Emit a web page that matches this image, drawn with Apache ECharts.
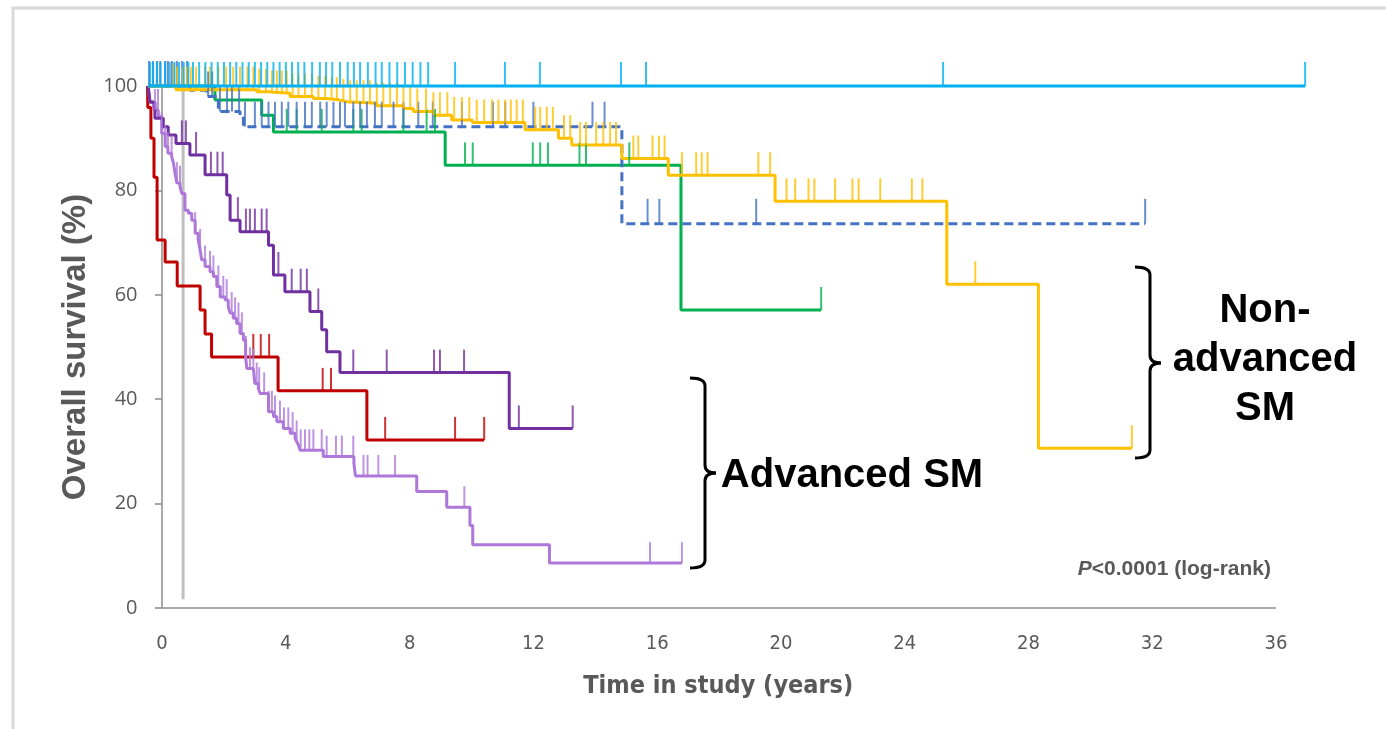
<!DOCTYPE html>
<html>
<head>
<meta charset="utf-8">
<script src="https://cdn.jsdelivr.net/npm/echarts@6/dist/echarts.min.js"></script>
<style>html,body{margin:0;padding:0;background:#fff}#c{width:1386px;height:729px}</style>
</head>
<body>
<div id="c"></div>
<script>
// ---- Data: Kaplan-Meier step curves [time (years), survival (%)] ----
const xTicks = [0, 4, 8, 12, 16, 20, 24, 28, 32, 36];
const yTicks = [0, 20, 40, 60, 80, 100];
const xRange = [-0.47, 37];          // data extent (curves start slightly before 0)
const xAxisSpan = [0, 36];           // drawn x-axis line

const lightBlueCurve = [[-0.45, 100], [36.94, 100]];
const lightBlueCensor = [-0.39,-0.3,-0.17,-0.05,0.1,0.25,0.4,0.55,0.7,0.85,1.0,1.2,1.4,1.6,1.8,2.0,2.2,2.4,2.6,2.8,3.0,3.2,3.4,3.6,3.8,4.0,4.2,4.4,4.6,4.85,5.1,5.3,5.5,5.75,6.0,6.2,6.4,6.65,6.9,7.1,7.35,7.6,7.85,8.1,8.35,8.6,9.47,11.08,12.21,14.83,15.64,25.24,36.94];

const yellowCurve = [[-0.45,100],[0.45,99.3],[3.06,98.9],[3.44,98.6],[4.14,98.0],[4.89,97.6],[5.32,97.3],[5.75,97.0],[5.97,96.7],[6.94,96.2],[7.8,95.7],[8.12,95.1],[8.77,94.4],[9.36,93.5],[10.03,93.0],[11.73,91.6],[12.81,90.0],[13.24,88.7],[14.86,86.1],[16.36,82.9],[19.81,77.9],[25.36,62.0],[28.32,30.6],[31.34,30.6]];
const yellowCensor = [0.37,0.49,0.67,0.8,0.93,1.1,1.39,1.55,1.82,2.07,2.3,2.52,2.76,2.95,3.14,3.36,3.55,3.71,3.87,4.03,4.22,4.41,4.62,4.84,5.05,5.27,5.48,5.65,5.86,6.08,6.29,6.51,6.72,6.94,7.15,7.37,7.59,7.8,8.02,8.25,8.53,8.77,8.98,9.22,9.44,9.69,9.93,10.17,10.41,10.66,10.87,11.09,11.27,11.46,11.66,12.06,12.22,12.43,12.63,12.99,13.19,13.51,13.7,14.03,14.26,14.48,14.67,15.23,15.39,15.85,16.06,16.24,16.8,17.26,17.44,17.63,19.27,19.65,20.18,20.46,20.89,21.08,21.75,22.31,22.51,23.21,24.23,24.57,26.28,31.34];

const blueCurve = [[-0.45,100],[0.9,99.2],[1.44,98.0],[1.82,95.1],[2.52,94.4],[2.63,92.2],[14.86,73.6],[31.77,73.6]];
const blueCensor = [-0.42,-0.29,-0.16,-0.06,0.1,0.19,0.32,0.48,0.65,0.81,1.49,1.62,1.87,2.1,2.26,2.49,2.68,3.0,3.22,3.44,3.65,3.87,4.08,4.35,4.62,4.84,5.11,5.32,5.54,5.75,5.91,6.18,6.4,6.62,6.88,7.1,7.48,7.8,8.28,8.75,9.69,10.69,11.09,12.0,13.91,14.3,15.69,16.07,19.2,31.77];

const greenCurve = [[-0.45,100],[1.71,97.3],[3.22,94.4],[3.6,91.2],[9.15,84.8],[16.77,57.1],[21.3,57.1]];
const greenCensor = [4.03,4.35,5.16,6.18,6.45,7.8,8.55,8.82,9.79,10.04,11.98,12.22,12.47,13.49,13.7,15.1,21.3];

const redCurve = [[-0.47,100],[-0.46,95.9],[-0.36,90.0],[-0.26,82.5],[-0.16,70.5],[0.1,66.3],[0.49,61.7],[1.23,57.1],[1.39,52.5],[1.6,48.1],[3.75,41.6],[6.62,32.2],[10.41,32.2]];
const redCensor = [2.95,3.19,3.46,5.19,5.46,7.21,9.47,10.41];

const purpleCurve = [[-0.45,100],[-0.39,96.9],[-0.23,93.8],[0.04,92.2],[0.2,90.6],[0.45,89.0],[0.9,86.8],[1.39,83.0],[2.09,79.1],[2.2,74.3],[2.52,72.1],[3.44,69.5],[3.6,63.8],[3.97,60.6],[4.78,56.8],[5.16,53.3],[5.32,49.1],[5.75,45.1],[11.22,34.4],[13.27,34.4]];
const purpleCensor = [0.64,0.77,1.1,1.58,1.79,1.96,2.45,2.71,2.84,3.0,3.22,3.38,3.76,4.19,4.48,4.68,5.05,6.18,7.26,8.79,8.98,9.76,11.53,13.27];

const lilacCurve = [[-0.45,100],[-0.39,97.0],[-0.28,96.0],[-0.23,95.4],[-0.12,94.1],[-0.01,90.9],[0.1,88.4],[0.19,87.1],[0.31,86.5],[0.37,85.2],[0.42,83.3],[0.48,81.4],[0.58,80.7],[0.64,79.4],[0.74,76.2],[0.85,75.6],[0.96,74.3],[1.07,71.8],[1.17,70.5],[1.23,68.6],[1.28,66.7],[1.39,65.4],[1.55,64.4],[1.66,63.5],[1.77,61.6],[1.88,59.6],[2.04,59.0],[2.14,57.7],[2.2,56.5],[2.3,55.5],[2.41,54.5],[2.52,52.6],[2.63,51.3],[2.7,48.1],[2.74,45.9],[2.95,45.6],[3.0,43.0],[3.11,42.1],[3.17,41.1],[3.44,37.6],[3.6,36.7],[3.71,35.7],[3.92,34.4],[4.14,33.5],[4.3,32.5],[4.35,31.9],[4.41,31.2],[4.46,30.2],[5.21,29.0],[6.2,27.7],[6.25,25.3],[8.23,22.3],[9.2,19.3],[9.95,15.8],[10.04,12.1],[12.52,8.6],[16.8,8.6]];
const lilacCensor = [-0.23,-0.13,-0.01,0.1,0.19,0.31,0.48,0.58,1.07,1.23,1.39,1.55,1.66,1.82,1.98,2.09,2.25,2.36,2.47,2.58,2.71,2.84,2.95,3.06,3.14,3.3,3.44,3.55,3.65,3.81,3.94,4.08,4.22,4.35,4.48,4.62,4.76,4.89,5.16,5.32,5.62,5.81,6.18,6.51,6.64,6.99,7.53,9.77,15.77,16.8];

const grayLine = [[0.68, 1.7], [0.68, 100]];

// ---- Helpers ----
function levelAt(curve, t) {
  let s = curve[0][1];
  for (const [ti, si] of curve) { if (ti <= t + 1e-9) s = si; else break; }
  return s;
}
function km(curve, censor, color, opts) {
  opts = opts || {};
  const h = opts.tickH || 23;
  return [
    { type: 'line', data: curve, step: 'end', symbol: 'none', showSymbol: false, clip: false, silent: true,
      z: opts.z || 2,
      lineStyle: { color: color, width: 3, type: opts.dashed ? [9, 5] : 'solid', cap: 'butt' } },
    { type: 'scatter', data: censor.map(t => [t, levelAt(curve, t)]), symbol: 'rect',
      symbolSize: [2, h], symbolOffset: [0, -h / 2], clip: false, silent: true, z: opts.z || 2,
      itemStyle: { color: color } }
  ];
}
function brace(x0, x1, x2, y0, ym, y1) {
  const r = 8;
  const st = { fill: 'none', stroke: '#000', lineWidth: 3 };
  return { type: 'group', silent: true, children: [
    { type: 'bezierCurve', shape: { x1: x0, y1: y0, cpx1: x1, cpy1: y0, x2: x1, y2: y0 + r }, style: st },
    { type: 'line', shape: { x1: x1, y1: y0 + r, x2: x1, y2: ym - r }, style: st },
    { type: 'bezierCurve', shape: { x1: x1, y1: ym - r, cpx1: x1, cpy1: ym, x2: x2, y2: ym }, style: st },
    { type: 'bezierCurve', shape: { x1: x2, y1: ym, cpx1: x1, cpy1: ym, x2: x1, y2: ym + r }, style: st },
    { type: 'line', shape: { x1: x1, y1: ym + r, x2: x1, y2: y1 - r }, style: st },
    { type: 'bezierCurve', shape: { x1: x1, y1: y1 - r, cpx1: x1, cpy1: y1, x2: x0, y2: y1 }, style: st }
  ] };
}

const chart = echarts.init(document.getElementById('c'), null, { renderer: 'canvas' });
const gray = '#595959';
const axisGray = '#8C8C8C';
const option = {
  animation: false,
  backgroundColor: '#ffffff',
  grid: { left: 147.5, right: 79, top: 86, bottom: 121, containLabel: false },
  xAxis: {
    type: 'value', min: xRange[0], max: xRange[1],
    splitLine: { show: false },
    axisTick: { show: false },
    axisLine: { show: false },
    axisLabel: { color: gray, fontSize: 20, margin: 26, customValues: xTicks,
      fontFamily: "'Liberation Sans Narrow','DejaVu Sans Condensed',sans-serif" },
    name: 'Time in study (years)', nameLocation: 'middle', nameGap: 66,
    nameTextStyle: { color: gray, fontSize: 25, fontWeight: 'bold', padding: [0, 18, 0, 0],
      fontFamily: "'Liberation Sans Narrow','DejaVu Sans Condensed',sans-serif" }
  },
  yAxis: {
    type: 'value', min: yTicks[0], max: yTicks[yTicks.length - 1], interval: 20,
    splitLine: { show: false },
    axisTick: { show: true, length: 7, lineStyle: { color: axisGray, width: 1.5 } },
    axisLine: { show: true, onZero: true, lineStyle: { color: axisGray, width: 1.5 } },
    axisLabel: { color: gray, fontSize: 20, margin: 10, fontFamily: "'Open Sans',sans-serif" },
    name: 'Overall survival (%)', nameLocation: 'middle', nameGap: 52,
    nameTextStyle: { color: gray, fontSize: 33, fontWeight: 'bold', fontFamily: "'Liberation Sans',sans-serif" }
  },
  title: {
    text: '{i|P}{b|<0.0001 (log-rank)}', right: 110, top: 554,
    textStyle: { rich: {
      i: { fontStyle: 'italic', fontWeight: 'bold', fontSize: 21, color: gray, fontFamily: "'Liberation Sans',sans-serif" },
      b: { fontWeight: 'bold', fontSize: 21, color: gray, fontFamily: "'Liberation Sans',sans-serif" } } }
  },
  graphic: [
    { type: 'rect', shape: { x: 13, y: 8, width: 1390, height: 740 }, style: { fill: 'none', stroke: '#D9D9D9', lineWidth: 3 }, silent: true },
    brace(690, 705, 716, 378, 473, 568),
    brace(1135, 1150, 1161, 267, 363, 458),
    { type: 'text', x: 852, y: 476, style: { text: 'Advanced SM', fill: '#000', textAlign: 'center', textVerticalAlign: 'middle',
      font: "bold 40px 'Liberation Sans', sans-serif" }, silent: true },
    { type: 'text', x: 1265, y: 311, style: { text: 'Non-', fill: '#000', textAlign: 'center', textVerticalAlign: 'middle',
      font: "bold 40px 'Liberation Sans', sans-serif" }, silent: true },
    { type: 'text', x: 1265, y: 360, style: { text: 'advanced', fill: '#000', textAlign: 'center', textVerticalAlign: 'middle',
      font: "bold 40px 'Liberation Sans', sans-serif" }, silent: true },
    { type: 'text', x: 1265, y: 409, style: { text: 'SM', fill: '#000', textAlign: 'center', textVerticalAlign: 'middle',
      font: "bold 40px 'Liberation Sans', sans-serif" }, silent: true }
  ],
  series: [
    { type: 'line', data: grayLine, symbol: 'none', clip: false, silent: true, z: 1,
      lineStyle: { color: '#BFBFBF', width: 3 },
      markLine: { symbol: 'none', silent: true, label: { show: false },
        lineStyle: { color: axisGray, width: 1.5, type: 'solid' },
        data: [[{ coord: [xAxisSpan[0], 0] }, { coord: [xAxisSpan[1], 0] }]] } },
    ...km(redCurve, redCensor, '#C00000'),
    ...km(lilacCurve, lilacCensor, '#AE78DA', { tickH: 21 }),
    ...km(purpleCurve, purpleCensor, '#7030A0'),
    ...km(greenCurve, greenCensor, '#00B050'),
    ...km(blueCurve, blueCensor, '#4472C4', { dashed: true, tickH: 25 }),
    ...km(yellowCurve, yellowCensor, '#FFC000'),
    ...km(lightBlueCurve, lightBlueCensor, '#00B0F0', { tickH: 24, z: 3 })
  ]
};
chart.setOption(option);
</script>
</body>
</html>
